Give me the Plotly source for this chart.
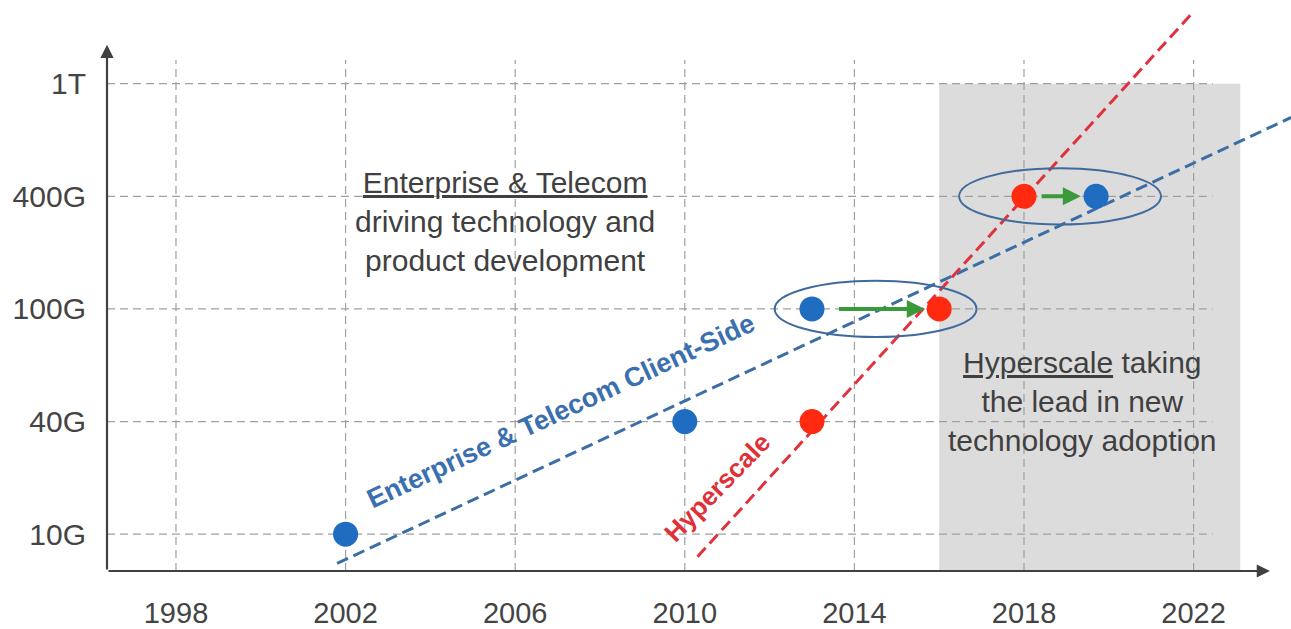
import plotly.graph_objects as go

# ---- data ----
speed_labels = ["10G", "40G", "100G", "400G", "1T"]
speed_levels = [0, 1, 2, 3, 4]
year_ticks = [1998, 2002, 2006, 2010, 2014, 2018, 2022]

ent_years = [2002, 2010, 2013, 2019.7]      # Enterprise & Telecom client-side
ent_speed = [0, 1, 2, 3]
hyp_years = [2013, 2016, 2018]              # Hyperscale
hyp_speed = [1, 2, 3]

ent_trend_x = [2001.8, 2024.3]
ent_trend_y = [-0.26, 3.70]
hyp_trend_x = [2010.3, 2022.0]
hyp_trend_y = [-0.20, 4.64]

hyperscale_era = [2016.0, 2023.1]

# transitions: (from_year, to_year, level)
transitions = [(2013, 2016, 2), (2018, 2019.7, 3)]

# ---- styling ----
FONT = "Liberation Sans, Arial, sans-serif"
TXT = "#404040"
BLUE_DOT = "#1f6cc0"
RED_DOT = "#ff2a10"
BLUE_LINE = "#3c6ea6"
RED_LINE = "#e0323c"
GRID = "#a0a0a0"

X0, X1 = 1996.373, 2024.297
Y0, Y1 = -0.327, 4.743

fig = go.Figure()

shapes = []
# grey "hyperscale era" band
shapes.append(dict(type="rect", xref="x", yref="y", x0=hyperscale_era[0], x1=hyperscale_era[1],
                   y0=Y0, y1=speed_levels[-1], fillcolor="#dcdcdc", line=dict(width=0), layer="below"))
# grid lines
for yr in year_ticks:
    shapes.append(dict(type="line", xref="x", yref="y", x0=yr, x1=yr, y0=Y0, y1=4.21,
                       line=dict(color=GRID, width=1.2, dash="8px,5px"), layer="below"))
for lv in speed_levels:
    shapes.append(dict(type="line", xref="x", yref="y", x0=X0, x1=2022.45, y0=lv, y1=lv,
                       line=dict(color=GRID, width=1.2, dash="8px,5px"), layer="below"))
# ellipses around transitions
for a, b, lv in transitions:
    cx = (a + b) / 2
    shapes.append(dict(type="circle", xref="x", yref="y", x0=cx - 2.38, x1=cx + 2.38,
                       y0=lv - 0.25, y1=lv + 0.25, line=dict(color="#3f6a9c", width=2),
                       fillcolor="rgba(0,0,0,0)", layer="above"))

# trend lines
fig.add_trace(go.Scatter(x=ent_trend_x, y=ent_trend_y, mode="lines",
                         line=dict(color=BLUE_LINE, width=3, dash="12px,6px"),
                         hoverinfo="skip", showlegend=False, cliponaxis=False))
fig.add_trace(go.Scatter(x=hyp_trend_x, y=hyp_trend_y, mode="lines",
                         line=dict(color=RED_LINE, width=3, dash="12px,6px"),
                         hoverinfo="skip", showlegend=False, cliponaxis=False))
# points
fig.add_trace(go.Scatter(x=ent_years, y=ent_speed, mode="markers",
                         marker=dict(color=BLUE_DOT, size=25), showlegend=False))
fig.add_trace(go.Scatter(x=hyp_years, y=hyp_speed, mode="markers",
                         marker=dict(color=RED_DOT, size=25), showlegend=False))

annotations = []
# axis arrows
annotations.append(dict(x=2023.8, y=Y0, ax=X0, ay=Y0, xref="x", yref="y", axref="x", ayref="y",
                        showarrow=True, arrowhead=2, arrowsize=1.2, arrowwidth=2.2, arrowcolor="#404040", text=""))
annotations.append(dict(x=X0, y=4.345, ax=X0, ay=Y0, xref="x", yref="y", axref="x", ayref="y",
                        showarrow=True, arrowhead=2, arrowsize=1.2, arrowwidth=2.2, arrowcolor="#404040", text=""))
# green transition arrows
for a, b, lv in transitions:
    if lv == 2:
        ax_, x_ = a + 0.6, b - 0.34
    else:
        ax_, x_ = a + 0.38, b - 0.36
    annotations.append(dict(x=x_, y=lv, ax=ax_, ay=lv, xref="x", yref="y", axref="x", ayref="y",
                            showarrow=True, arrowhead=2, arrowsize=0.9, arrowwidth=4,
                            arrowcolor="#3a9a3a", text=""))

# text blocks
annotations.append(dict(x=2005.76, y=2.774, xref="x", yref="y", showarrow=False,
                        text="<u>Enterprise & Telecom</u><br>driving technology and<br>product development",
                        font=dict(family=FONT, size=30, color=TXT), align="center"))
annotations.append(dict(x=2019.39, y=1.177, xref="x", yref="y", showarrow=False,
                        text="<u>Hyperscale</u> taking<br>the lead in new<br>technology adoption",
                        font=dict(family=FONT, size=30, color=TXT), align="center"))
# rotated line labels
annotations.append(dict(x=2007.08, y=1.09, xref="x", yref="y", showarrow=False,
                        text="<b>Enterprise & Telecom Client-Side</b>", textangle=-25,
                        font=dict(family=FONT, size=27, color="#3a6fb0")))
annotations.append(dict(x=2010.78, y=0.416, xref="x", yref="y", showarrow=False,
                        text="<b>Hyperscale</b>", textangle=-46,
                        font=dict(family=FONT, size=26, color="#e03038")))

fig.update_layout(
    width=1291, height=629,
    margin=dict(l=107, r=0, t=0, b=56),
    paper_bgcolor="white", plot_bgcolor="white",
    shapes=shapes, annotations=annotations,
    font=dict(family=FONT, color=TXT),
    xaxis=dict(range=[X0, X1], showgrid=False, zeroline=False, showline=False,
               tickvals=year_ticks, ticktext=[str(y) for y in year_ticks],
               tickfont=dict(family=FONT, size=29, color="#444444"),
               ticks="", ticklabelstandoff=22),
    yaxis=dict(range=[Y0, Y1], showgrid=False, zeroline=False, showline=False,
               tickvals=speed_levels, ticktext=speed_labels,
               tickfont=dict(family=FONT, size=30, color="#444444"),
               ticks="", ticklabelstandoff=20),
)

fig.write_html("out.html")
